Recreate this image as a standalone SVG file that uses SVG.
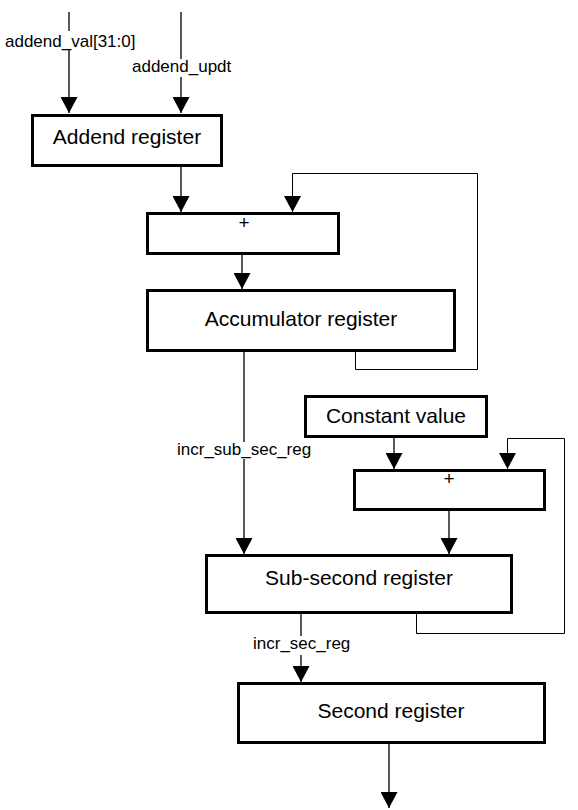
<svg xmlns="http://www.w3.org/2000/svg" width="578" height="810" viewBox="0 0 578 810">
<style>
.box{fill:#fff;stroke:#000;stroke-width:3}
.t{font-family:"Liberation Sans",Arial,sans-serif;font-size:21px;text-anchor:middle;fill:#000}
.s{font-family:"Liberation Sans",Arial,sans-serif;font-size:17px;fill:#000}
.p{font-family:"Liberation Sans",Arial,sans-serif;font-size:19px;text-anchor:middle;fill:#000}
.c{fill:none;stroke:#000;stroke-width:1.3}
.f{fill:none;stroke:#000;stroke-width:1}
</style>
<defs>
<marker id="ah" markerUnits="userSpaceOnUse" markerWidth="17" markerHeight="17" refX="15" refY="8" orient="auto" viewBox="0 0 16 16">
<path d="M0,0 L15,8 L0,16 z" fill="#000"/>
</marker>
</defs>
<rect width="578" height="810" fill="#fff"/>
<g id="connectors">
<path class="c" d="M69,12 V31"/>
<path class="c" d="M69,50 V113" marker-end="url(#ah)"/>
<path class="c" d="M181,12 V59"/>
<path class="c" d="M181,77 V113" marker-end="url(#ah)"/>
<path class="c" d="M181,167 V212" marker-end="url(#ah)"/>
<path class="f" d="M355.5,352 V369.5 H477.5 V173.5 H292.5 V212" marker-end="url(#ah)"/>
<path class="c" d="M242,255 V289" marker-end="url(#ah)"/>
<path class="c" d="M244,352 V442"/>
<path class="c" d="M244,459 V554" marker-end="url(#ah)"/>
<path class="c" d="M394,438 V469" marker-end="url(#ah)"/>
<path class="f" d="M416.5,614 V633.5 H564.5 V438.5 H507.5 V469" marker-end="url(#ah)"/>
<path class="c" d="M449,508 V554" marker-end="url(#ah)"/>
<path class="c" d="M301,614 V636"/>
<path class="c" d="M301,655 V682" marker-end="url(#ah)"/>
<path class="c" d="M389,744 V808" marker-end="url(#ah)"/>
<text class="s" x="5" y="47">addend_val[31:0]</text>
<text class="s" x="132" y="72">addend_updt</text>
<text class="s" x="177" y="455">incr_sub_sec_reg</text>
<text class="s" x="253" y="649">incr_sec_reg</text>
</g>
<g id="addend">
<rect class="box" x="32.5" y="115.5" width="189" height="50"/>
<text class="t" x="127" y="144">Addend register</text>
</g>
<g id="adder1">
<rect class="box" x="147.5" y="213.5" width="191" height="40"/>
<text class="p" x="244" y="229">+</text>
</g>
<g id="accumulator">
<rect class="box" x="147.5" y="290.5" width="307" height="60"/>
<text class="t" x="301" y="326">Accumulator register</text>
</g>
<g id="constant">
<rect class="box" x="305.5" y="396.5" width="181" height="40"/>
<text class="t" x="396" y="423">Constant value</text>
</g>
<g id="adder2">
<rect class="box" x="354.5" y="470.5" width="190" height="39"/>
<text class="p" x="449" y="485">+</text>
</g>
<g id="subsecond">
<rect class="box" x="206.5" y="555.5" width="305" height="57"/>
<text class="t" x="359" y="585">Sub-second register</text>
</g>
<g id="second">
<rect class="box" x="238.5" y="683.5" width="306" height="59"/>
<text class="t" x="391" y="718">Second register</text>
</g>
</svg>
